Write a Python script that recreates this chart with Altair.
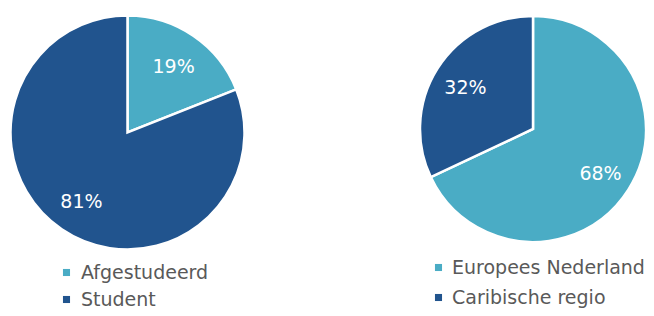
import altair as alt
import pandas as pd

# Data
left_cats = ["Afgestudeerd", "Student"]
left_vals = [19, 81]
right_cats = ["Europees Nederland", "Caribische regio"]
right_vals = [68, 32]
colors = ["#4AACC5", "#21548E"]

FONT = "DejaVu Sans"

def make_df(cats, vals):
    return pd.DataFrame({
        "cat": cats,
        "val": vals,
        "label": [f"{v}%" for v in vals],
        "ord": list(range(len(cats))),
    })

def pie(df, cx, cy, r, lr, lx, ly, cats, lfs, rp, lo):
    base = alt.Chart(df).encode(
        theta=alt.Theta("val:Q", stack=True, scale=alt.Scale(domain=[0, 100])),
        order=alt.Order("ord:Q"),
    )
    arc = base.mark_arc(outerRadius=r, stroke="white", strokeWidth=2.5).encode(
        x=alt.value(cx), y=alt.value(cy),
        color=alt.Color(
            "cat:N",
            scale=alt.Scale(domain=cats, range=colors),
            sort=cats,
            legend=alt.Legend(
                title=None, orient="none", legendX=lx, legendY=ly,
                symbolType="square", symbolSize=50, symbolStrokeWidth=0,
                labelFont=FONT, labelFontSize=lfs, labelColor="#595959",
                labelLimit=0, rowPadding=rp, labelOffset=lo, direction="vertical",
            ),
        ),
    )
    txt = base.mark_text(radius=lr, font=FONT, fontSize=19, color="white",
                         baseline="middle", align="center", dy=2).encode(
        x=alt.value(cx), y=alt.value(cy),
        detail="cat:N",
        text="label:N",
    )
    return arc, txt

a1, t1 = pie(make_df(left_cats, left_vals), 119.5, 124.5, 117, 82, 49, 255, left_cats, 19, 7, 5)
a2, t2 = pie(make_df(right_cats, right_vals), 525, 121, 113, 80, 421, 250, right_cats, 19, 10, 4)

chart = alt.layer(a1, t1, a2, t2).resolve_scale(
    color="independent", theta="independent"
).properties(
    width=638, height=300, padding=0,
    autosize=alt.AutoSizeParams(type="none"),
).configure_view(stroke=None)

chart.save("out.html", embed_options={"renderer": "svg", "actions": False})
